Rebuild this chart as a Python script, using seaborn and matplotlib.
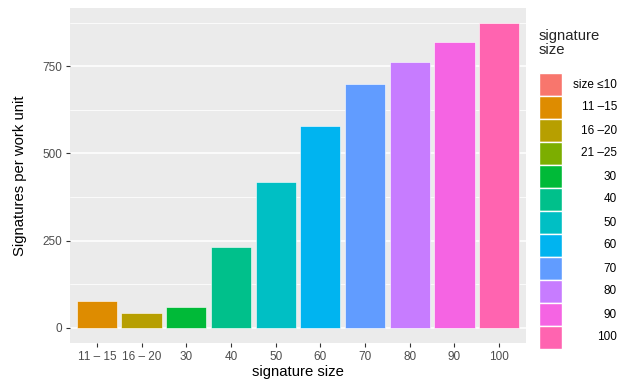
import numpy as np
import pandas as pd
import matplotlib
matplotlib.use('Agg')
import matplotlib.pyplot as plt
from matplotlib.patches import Rectangle
from matplotlib.ticker import MultipleLocator
import seaborn as sns

# ------------------------------------------------------------
# data
# ------------------------------------------------------------
bar_labels = ['11 – 15', '16 – 20', '30', '40', '50', '60', '70', '80', '90', '100']
bar_values = [77, 43, 60, 232, 418, 578, 698, 761, 819, 873]

legend_labels = ['size ≤10', '11 –15', '16 –20', '21 –25', '30', '40',
                 '50', '60', '70', '80', '90', '100']
legend_colors = ['#F8766D', '#DE8C00', '#B79F00', '#7CAE00', '#00BA38', '#00C08B',
                 '#00BFC4', '#00B4F0', '#619CFF', '#C77CFF', '#F564E3', '#FF64B0']
# which legend level each bar belongs to
bar_levels = ['11 –15', '16 –20', '30', '40', '50', '60', '70', '80', '90', '100']

df = pd.DataFrame({'size': bar_labels, 'value': bar_values, 'level': bar_levels})
palette = dict(zip(legend_labels, legend_colors))

# ------------------------------------------------------------
# style
# ------------------------------------------------------------
sns.set_style('darkgrid', {'axes.facecolor': '#EBEBEB', 'grid.color': 'white'})
plt.rcParams['font.family'] = ['Liberation Sans', 'DejaVu Sans']

W, H = 624, 384
fig = plt.figure(figsize=(W / 100, H / 100), dpi=100)
ax = fig.add_axes([70 / W, 1 - 343 / H, (526 - 70) / W, (343 - 8) / H])

sns.barplot(data=df, x='size', y='value', hue='level', order=bar_labels,
            hue_order=legend_labels, palette=palette, dodge=False, width=0.9,
            saturation=1, edgecolor='white', linewidth=0.4, legend=False, ax=ax)

ax.set_xlim(-0.6, len(bar_labels) - 0.4)
ax.set_ylim(-43.6, 916.6)
ax.yaxis.set_major_locator(MultipleLocator(250))
ax.yaxis.set_minor_locator(MultipleLocator(125))
ax.grid(axis='x', visible=False)
ax.grid(axis='y', which='major', color='white', linewidth=1.1)
ax.grid(axis='y', which='minor', color='white', linewidth=0.55)
ax.set_axisbelow(True)
for s in ax.spines.values():
    s.set_visible(False)

ax.tick_params(axis='both', which='major', length=3, width=0.8, color='#333333',
               labelsize=8.5, labelcolor='#4D4D4D', pad=2.5, bottom=True, left=True)
ax.tick_params(axis='y', which='minor', length=0)
ax.set_xlabel('signature size', fontsize=10.7, color='black', labelpad=2)
ax.set_ylabel('Signatures per work unit', fontsize=10.7, color='black', labelpad=11)

# ------------------------------------------------------------
# legend (ggplot style, labels right aligned)
# ------------------------------------------------------------
fig.text(539 / W, 1 - 43 / H, 'signature\nsize', fontsize=10.7, ha='left', va='center',
         linespacing=1.0)
key_top, key_h = 73, 23
for i, (lab, col) in enumerate(zip(legend_labels, legend_colors)):
    y0 = key_top + i * key_h
    fig.add_artist(Rectangle((539 / W, 1 - (y0 + key_h) / H), 23 / W, key_h / H,
                             transform=fig.transFigure, facecolor=col,
                             edgecolor='white', linewidth=1.0))
    fig.text(617 / W, 1 - (y0 + key_h / 2) / H, lab, fontsize=8.5, ha='right',
             va='center', color='black')

fig.savefig('out.png', dpi=100)
